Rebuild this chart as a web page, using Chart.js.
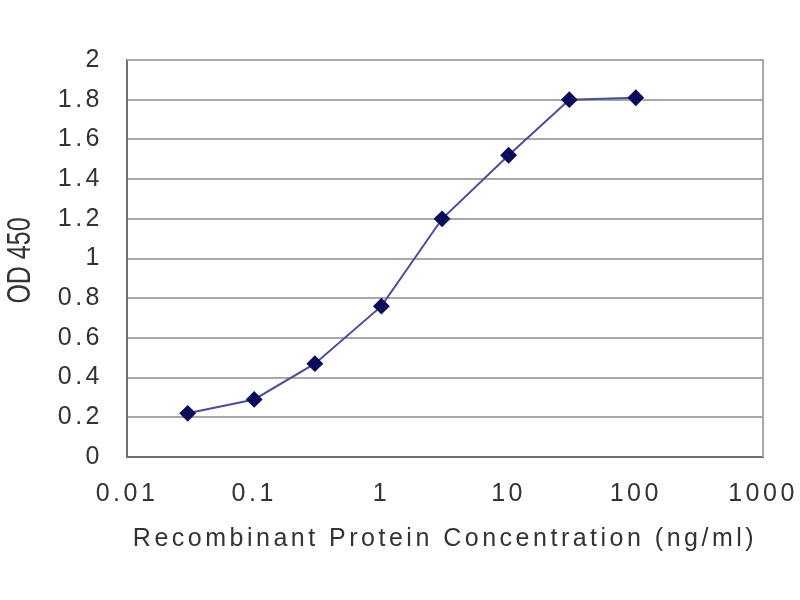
<!DOCTYPE html>
<html>
<head>
<meta charset="utf-8">
<script src="https://cdn.jsdelivr.net/npm/chart.js@4/dist/chart.umd.min.js"></script>
<style>
  html, body { margin: 0; padding: 0; background: #fff; }
  #wrap { width: 800px; height: 600px; }
</style>
</head>
<body>
<div id="wrap"><canvas id="c"></canvas></div>
<script>
// concentration (ng/ml) vs OD 450
const concentrations = [0.03, 0.1, 0.3, 1, 3, 10, 30, 100];
const odValues = [0.22, 0.29, 0.47, 0.76, 1.20, 1.52, 1.80, 1.81];
const xTicks = [0.01, 0.1, 1, 10, 100, 1000];
const xTickLabels = ['0.01', '0.1', '1', '10', '100', '1000'];
const yTitle = 'OD 450';

const FONT = 'Liberation Sans';
const TEXT = '#333';

// the source picture is stretched sideways, so spread the horizontal text a bit
const wideText = {
  id: 'wideText',
  beforeDraw(chart) { chart.ctx.letterSpacing = '3.5px'; },
  afterDraw(chart) { chart.ctx.letterSpacing = '0px'; }
};

// top/right frame of the plot area and the rotated y title
const frame = {
  id: 'frame',
  afterDraw(chart) {
    const { ctx, chartArea: a } = chart;
    ctx.save();
    ctx.strokeStyle = '#a8a8a8';
    ctx.lineWidth = 2;
    ctx.beginPath();
    ctx.moveTo(a.left, a.top);
    ctx.lineTo(a.right, a.top);
    ctx.lineTo(a.right, a.bottom);
    ctx.stroke();

    ctx.translate(21, (a.top + a.bottom) / 2 + 2);
    ctx.rotate(-Math.PI / 2);
    ctx.scale(1, 1.3);
    ctx.fillStyle = TEXT;
    ctx.font = '25px "' + FONT + '"';
    ctx.textAlign = 'center';
    ctx.textBaseline = 'middle';
    ctx.fillText(yTitle, 0, 0);
    ctx.restore();
  }
};

new Chart(document.getElementById('c'), {
  type: 'line',
  data: {
    datasets: [{
      data: concentrations.map((x, i) => ({ x, y: odValues[i] })),
      borderColor: '#4c4c9c',
      borderWidth: 2,
      backgroundColor: '#0c0c5c',
      pointBackgroundColor: '#0c0c5c',
      pointBorderColor: '#0c0c5c',
      pointRadius: 7,
      pointStyle: 'rectRot',
      tension: 0,
      fill: false
    }]
  },
  options: {
    responsive: true,
    maintainAspectRatio: false,
    animation: false,
    layout: { padding: { left: 0, right: 37, top: 60, bottom: 40 } },
    plugins: { legend: { display: false }, tooltip: { enabled: false } },
    scales: {
      x: {
        type: 'logarithmic',
        min: 0.01,
        max: 1000,
        afterBuildTicks: (axis) => { axis.ticks = xTicks.map(v => ({ value: v })); },
        afterFit: (axis) => { axis.height = 103; axis.paddingLeft = 0; axis.paddingRight = 0; },
        grid: { display: false },
        border: { display: true, color: '#707070', width: 2 },
        ticks: {
          color: TEXT,
          font: { family: FONT, size: 25 },
          padding: 14,
          maxRotation: 0,
          autoSkip: false,
          callback: (v) => xTickLabels[xTicks.indexOf(v)] ?? ''
        },
        title: {
          display: true,
          text: 'Recombinant Protein Concentration (ng/ml)',
          color: TEXT,
          font: { family: FONT, size: 25 },
          padding: { top: 4, bottom: 6 }
        }
      },
      y: {
        min: 0,
        max: 2,
        afterFit: (axis) => { axis.width = 127; axis.paddingTop = 0; axis.paddingBottom = 0; },
        grid: { color: '#a8a8a8', lineWidth: 2, drawTicks: false },
        border: { display: true, color: '#707070', width: 2 },
        ticks: {
          stepSize: 0.2,
          color: TEXT,
          font: { family: FONT, size: 25 },
          padding: 24,
          callback: (v) => String(Math.round(v * 10) / 10)
        },
        title: { display: false }
      }
    }
  },
  plugins: [wideText, frame]
});
</script>
</body>
</html>
